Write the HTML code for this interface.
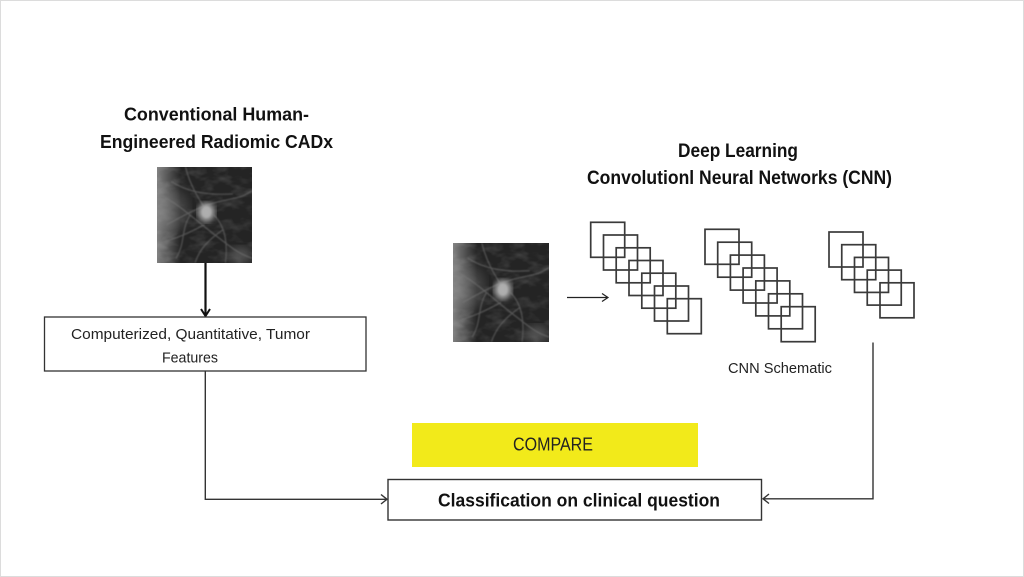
<!DOCTYPE html>
<html><head><meta charset="utf-8"><style>
html,body{margin:0;padding:0;background:#fff;}
svg{display:block;}
text{font-family:"Liberation Sans",sans-serif;}
</style></head><body>
<svg width="1024" height="577" viewBox="0 0 1024 577" xmlns="http://www.w3.org/2000/svg">
<defs>
  <linearGradient id="lg" x1="0" y1="0" x2="1" y2="0">
    <stop offset="0" stop-color="#fff" stop-opacity="0.42"/>
    <stop offset="0.25" stop-color="#fff" stop-opacity="0"/>
  </linearGradient>
  <filter id="tex" x="0" y="0" width="100%" height="100%">
    <feTurbulence type="fractalNoise" baseFrequency="0.05 0.09" numOctaves="3" seed="7"/>
    <feColorMatrix type="matrix" values="0 0 0 0 1  0 0 0 0 1  0 0 0 0 1  1.2 0 0 0 -0.55"/>
  </filter>
  <filter id="b3"><feGaussianBlur stdDeviation="3"/></filter>
  <filter id="b1"><feGaussianBlur stdDeviation="0.8"/></filter>
  <filter id="b5"><feGaussianBlur stdDeviation="5"/></filter>
  <clipPath id="cp"><rect x="0" y="0" width="100" height="100"/></clipPath>
  <g id="mammo" clip-path="url(#cp)">
    <rect x="0" y="0" width="100" height="100" fill="#242424"/>
    <rect x="0" y="0" width="100" height="100" filter="url(#tex)" opacity="0.3"/>
    <ellipse cx="18" cy="45" rx="16" ry="22" fill="#555" opacity="0.6" filter="url(#b5)"/>
    <ellipse cx="88" cy="92" rx="12" ry="9" fill="#666" opacity="0.7" filter="url(#b5)"/>
    <rect x="0" y="0" width="100" height="100" fill="url(#lg)"/>
    <g fill="none" stroke="#7a7a7a" stroke-width="1.1" opacity="0.65" filter="url(#b1)">
      <path d="M5 30 C25 40 40 55 60 70 S85 90 100 95"/>
      <path d="M10 60 C30 50 45 40 70 35 S90 30 100 25"/>
      <path d="M30 0 C35 20 45 35 52 45"/>
      <path d="M0 80 C20 75 35 68 50 60"/>
      <path d="M60 50 C70 60 75 75 72 100"/>
      <path d="M40 100 C45 85 55 75 70 65"/>
      <path d="M15 15 C30 25 50 30 80 28"/>
      <path d="M20 95 C30 80 25 65 35 50"/>
    </g>
    <ellipse cx="52" cy="47" rx="9" ry="10" fill="#a8a8a8" filter="url(#b3)"/>
    <ellipse cx="52" cy="47" rx="5" ry="6" fill="#b4b4b4" opacity="0.6" filter="url(#b1)"/>
  </g>
</defs>

<rect x="0.5" y="0.5" width="1023" height="576" fill="#fff" stroke="#dcdcdc" stroke-width="1"/>

<!-- Left column titles -->
<text x="124" y="120.5" font-size="18" font-weight="bold" fill="#111" textLength="185" lengthAdjust="spacingAndGlyphs">Conventional Human-</text>
<text x="100" y="148" font-size="18" font-weight="bold" fill="#111" textLength="233" lengthAdjust="spacingAndGlyphs">Engineered Radiomic CADx</text>

<!-- Left mammogram -->
<svg x="157" y="167" width="95" height="96" viewBox="0 0 100 100" preserveAspectRatio="none"><use href="#mammo"/></svg>

<!-- Left vertical arrow -->
<line x1="205.5" y1="263" x2="205.5" y2="315" stroke="#111" stroke-width="2.2"/>
<polyline points="201,309 205.5,316 210,309" fill="none" stroke="#111" stroke-width="2"/>

<!-- Features box -->
<rect x="44.5" y="317" width="321.5" height="54" fill="#fff" stroke="#333" stroke-width="1.3"/>
<text x="71" y="339" font-size="15" fill="#222" textLength="239" lengthAdjust="spacingAndGlyphs">Computerized, Quantitative, Tumor</text>
<text x="162" y="362.5" font-size="15" fill="#222" textLength="56" lengthAdjust="spacingAndGlyphs">Features</text>

<!-- Left connector to classification -->
<polyline points="205.3,371 205.3,499.3 387,499.3" fill="none" stroke="#333" stroke-width="1.4"/>
<polyline points="381,494.5 387,499.3 381,504" fill="none" stroke="#333" stroke-width="1.4"/>

<!-- Right titles -->
<text x="678" y="157" font-size="19" font-weight="bold" fill="#111" textLength="120" lengthAdjust="spacingAndGlyphs">Deep Learning</text>
<text x="587" y="184" font-size="19" font-weight="bold" fill="#111" textLength="305" lengthAdjust="spacingAndGlyphs">Convolutionl Neural Networks (CNN)</text>

<!-- Right mammogram -->
<svg x="453" y="243" width="96" height="99" viewBox="0 0 100 100" preserveAspectRatio="none"><use href="#mammo"/></svg>

<!-- Small arrow -->
<line x1="567" y1="297.5" x2="608" y2="297.5" stroke="#222" stroke-width="1.2"/>
<polyline points="602,293.5 608,297.5 602,301.5" fill="none" stroke="#222" stroke-width="1.2"/>

<!-- CNN squares -->
<g fill="none" stroke="#3a3a3a" stroke-width="1.7">
  <rect x="590.7" y="222.3" width="34" height="35"/>
  <rect x="603.5" y="235" width="34" height="35"/>
  <rect x="616.2" y="247.8" width="34" height="35"/>
  <rect x="629" y="260.5" width="34" height="35"/>
  <rect x="641.8" y="273.2" width="34" height="35"/>
  <rect x="654.5" y="286" width="34" height="35"/>
  <rect x="667.3" y="298.7" width="34" height="35"/>

  <rect x="705" y="229.3" width="34" height="35"/>
  <rect x="717.7" y="242.2" width="34" height="35"/>
  <rect x="730.4" y="255.1" width="34" height="35"/>
  <rect x="743.1" y="268" width="34" height="35"/>
  <rect x="755.8" y="280.9" width="34" height="35"/>
  <rect x="768.5" y="293.8" width="34" height="35"/>
  <rect x="781.2" y="306.7" width="34" height="35"/>

  <rect x="829" y="232" width="34" height="35"/>
  <rect x="841.75" y="244.7" width="34" height="35"/>
  <rect x="854.5" y="257.4" width="34" height="35"/>
  <rect x="867.25" y="270.1" width="34" height="35"/>
  <rect x="880" y="282.8" width="34" height="35"/>
</g>

<text x="728" y="373" font-size="15" fill="#222" textLength="104" lengthAdjust="spacingAndGlyphs">CNN Schematic</text>

<!-- Right connector -->
<polyline points="873,342.5 873,498.8 763,498.8" fill="none" stroke="#333" stroke-width="1.4"/>
<polyline points="769,494 763,498.8 769,503.5" fill="none" stroke="#333" stroke-width="1.4"/>

<!-- COMPARE -->
<rect x="412" y="423" width="286" height="44" fill="#f2ea1a"/>
<text x="513" y="450.5" font-size="18" fill="#222" textLength="80" lengthAdjust="spacingAndGlyphs">COMPARE</text>

<!-- Classification box -->
<rect x="388" y="479.5" width="373.5" height="40.5" fill="#fff" stroke="#333" stroke-width="1.4"/>
<text x="438" y="506.5" font-size="18" font-weight="bold" fill="#111" textLength="282" lengthAdjust="spacingAndGlyphs">Classification on clinical question</text>
</svg>
</body></html>
